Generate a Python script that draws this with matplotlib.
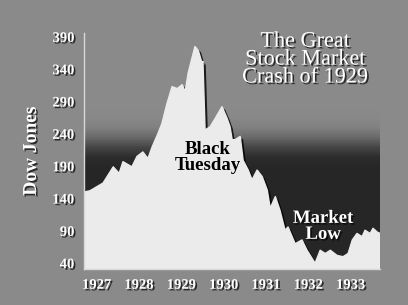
import numpy as np
import matplotlib
matplotlib.use('Agg')
import matplotlib.pyplot as plt
import matplotlib.patheffects as pe
from matplotlib.colors import LinearSegmentedColormap

# Dow Jones (decimal year, index value)
annees = [1927.00, 1927.14, 1927.45, 1927.69, 1927.83, 1927.92, 1928.13, 1928.25,
          1928.39, 1928.51, 1928.61, 1928.75, 1928.84, 1928.96, 1929.08, 1929.20,
          1929.32, 1929.39, 1929.46, 1929.62, 1929.70, 1929.79, 1929.81, 1929.86,
          1929.98, 1930.10, 1930.26, 1930.38, 1930.45, 1930.50, 1930.57, 1930.69,
          1930.76, 1930.88, 1930.97, 1931.09, 1931.21, 1931.33, 1931.40, 1931.52,
          1931.63, 1931.75, 1931.82, 1931.99, 1932.15, 1932.27, 1932.46, 1932.58,
          1932.70, 1932.82, 1932.98, 1933.12, 1933.24, 1933.34, 1933.45, 1933.57,
          1933.64, 1933.76, 1933.83, 1933.93, 1934.00]
dow = [150, 152, 164, 189, 179, 197, 189, 205,
       212, 202, 220, 241, 256, 287, 313, 310,
       316, 305, 334, 375, 369, 349, 352, 246,
       251, 264, 282, 264, 251, 231, 231, 236,
       199, 184, 169, 184, 174, 153, 125, 143,
       122, 91, 96, 70, 76, 60, 40, 60,
       55, 60, 52, 50, 55, 76, 86, 81,
       91, 86, 94, 88, 86]

ticks_y = [40, 90, 140, 190, 240, 290, 340, 390]
labels_x = ['1927', '1928', '1929', '1930', '1931', '1932', '1933']
pos_x = [int(a) + 0.3 for a in labels_x]

fond = '#8a8a8a'
police = 'Liberation Serif'
ombre = [pe.SimplePatchShadow(offset=(1.2, -1.2), shadow_rgbFace='black', alpha=0.7), pe.Normal()]

fig = plt.figure(figsize=(4.08, 3.05), dpi=100)
fig.patch.set_facecolor(fond)
ax = fig.add_axes([0.206, 0.118, 0.726, 0.774])
ax.set_facecolor('none')
ax.set_xlim(1927, 1934)
ax.set_ylim(31, 396)

# degrade sombre derriere la courbe, en bandes horizontales
bas, haut = 188, 280
cmap = LinearSegmentedColormap.from_list(
    'deg', ['#262626', '#2c2c2c', '#444444', '#686868', '#808080', '#888888', fond])
ax.axhspan(31, bas, facecolor='#262626', edgecolor='none', zorder=0)
bords = np.linspace(bas, haut, 80)
for y0, y1 in zip(bords[:-1], bords[1:]):
    t = ((y0 + y1) / 2 - bas) / (haut - bas)
    ax.axhspan(y0, y1 + 0.3, facecolor=cmap(t), edgecolor='none', zorder=0)

ax.fill_between(annees, 31, dow, color='#ebebeb', zorder=2,
                path_effects=[pe.SimplePatchShadow(offset=(2, -1.5), shadow_rgbFace='black', alpha=0.8),
                              pe.Normal()])

for s in ['top', 'right']:
    ax.spines[s].set_visible(False)
for s in ['left', 'bottom']:
    ax.spines[s].set_color('#d8d8d8')
    ax.spines[s].set_linewidth(1)
    ax.spines[s].set_zorder(3)

ax.set_yticks(ticks_y)
ax.set_xticks(pos_x)
ax.set_xticklabels(labels_x)
ax.tick_params(length=0, pad=7, colors='white')
for lab in ax.get_xticklabels() + ax.get_yticklabels():
    lab.set_fontfamily(police)
    lab.set_fontweight('bold')
    lab.set_fontsize(10.5)
    lab.set_path_effects(ombre)

ax.set_ylabel('Dow Jones', fontfamily=police, fontweight='bold', fontsize=14,
              color='white', labelpad=9, path_effects=ombre)

fig.text(0.748, 0.803, 'The Great\nStock Market\nCrash of 1929', ha='center', va='center',
         fontfamily=police, fontsize=16, color='white', linespacing=0.92, path_effects=ombre)

ax.text(1929.93, 203, 'Black\nTuesday', ha='center', va='center', fontfamily=police,
        fontweight='bold', fontsize=13.5, color='black', linespacing=0.92, zorder=4)
ax.text(1932.65, 97, 'Market\nLow', ha='center', va='center', fontfamily=police,
        fontweight='bold', fontsize=13.5, color='white', linespacing=0.92, zorder=4,
        path_effects=ombre)

fig.savefig('out.png', dpi=100, facecolor=fond)
